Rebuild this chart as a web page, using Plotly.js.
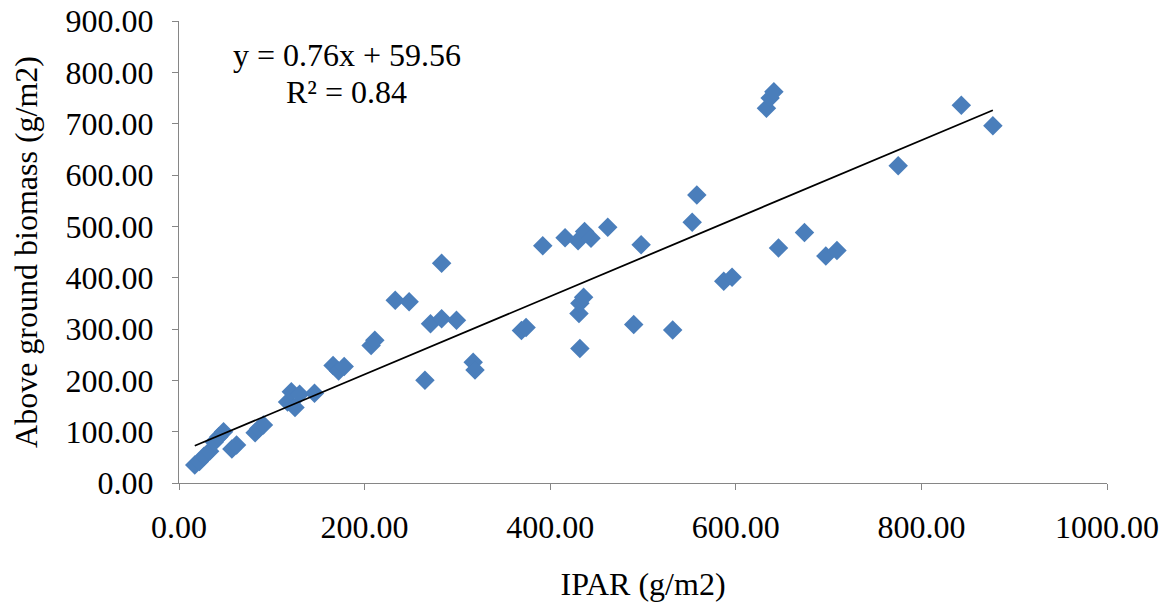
<!DOCTYPE html>
<html>
<head>
<meta charset="utf-8">
<script src="https://cdn.plot.ly/plotly-3.0.1.min.js"></script>
<style>html,body{margin:0;padding:0;background:#fff;}#chart{width:1170px;height:610px;}</style>
</head>
<body>
<div id="chart"></div>
<script>
// IPAR (g/m2) values
const ipar = [17,22,27,33,38,43,48,57,62,
  82,86,91,
  117,121,125,130,146,
  166,172,178,
  207,211,
  233,248,
  265,
  271,283,299,
  283,
  317,319,
  369,374,
  392,416,430,437,444,
  432,431,432,436,
  462,498,
  490,532,
  553,558,
  587,596,
  633,637,641,
  646,674,697,709,
  775,843,877];
// Above ground biomass (g/m2) values
const biomass = [35,42,52,62,80,90,100,66,74,
  98,106,113,
  158,178,147,173,175,
  229,218,227,
  268,278,
  356,353,
  200,
  310,320,317,
  428,
  235,220,
  297,303,
  462,478,472,490,477,
  262,330,350,362,
  498,464,
  309,298,
  508,561,
  393,401,
  730,750,762,
  458,488,442,453,
  618,736,696];
// Linear trend (as reported on the chart)
const slope = 0.76;
const intercept = 59.56;
const r2 = 0.84;
const xTickVals = [0,200,400,600,800,1000];
const yTickVals = [0,100,200,300,400,500,600,700,800,900];

const xMin = Math.min(...ipar), xMax = Math.max(...ipar);
const trendX = [xMin, xMax];
const trendY = trendX.map(v => slope * v + intercept);

const font = {family: 'Liberation Serif, Times New Roman, serif', color: '#000'};
const F = (s) => Object.assign({size: s}, font);

const data = [
  {x: ipar, y: biomass, type: 'scatter', mode: 'markers',
   marker: {symbol: 'diamond', size: 15, color: '#4A7EBB', line: {width: 0}},
   showlegend: false, hoverinfo: 'x+y'},
  {x: trendX, y: trendY, type: 'scatter', mode: 'lines',
   line: {color: '#000', width: 1.8}, showlegend: false, hoverinfo: 'skip'}
];

const layout = {
  width: 1170, height: 610,
  margin: {l: 179, r: 63, t: 21, b: 127},
  paper_bgcolor: '#fff', plot_bgcolor: '#fff',
  font: F(32),
  xaxis: {
    range: [0, 1000], tickvals: xTickVals,
    ticktext: xTickVals.map(v => v.toFixed(2)),
    showgrid: false, zeroline: false,
    showline: true, linecolor: '#868686', linewidth: 1,
    ticks: 'outside', ticklen: 6, tickcolor: '#868686',
    ticklabelstandoff: 10,
    tickfont: F(32),
    title: {text: 'IPAR (g/m2)', font: F(32), standoff: 28}
  },
  yaxis: {
    range: [0, 900], tickvals: yTickVals,
    ticktext: yTickVals.map(v => v.toFixed(2)),
    showgrid: false, zeroline: false,
    showline: true, linecolor: '#868686', linewidth: 1,
    ticks: 'outside', ticklen: 6, tickcolor: '#868686',
    ticklabelstandoff: 12,
    tickfont: F(32),
    title: {text: 'Above ground biomass (g/m2)', font: F(32), standoff: 18}
  },
  annotations: [
    {x: 181, y: 834, xref: 'x', yref: 'y', showarrow: false,
     text: 'y = ' + slope.toFixed(2) + 'x + ' + intercept.toFixed(2),
     font: F(32)},
    {x: 181, y: 762, xref: 'x', yref: 'y', showarrow: false,
     text: 'R² = ' + r2.toFixed(2),
     font: F(32)}
  ]
};

Plotly.newPlot('chart', data, layout, {displayModeBar: false, staticPlot: true});
</script>
</body>
</html>
